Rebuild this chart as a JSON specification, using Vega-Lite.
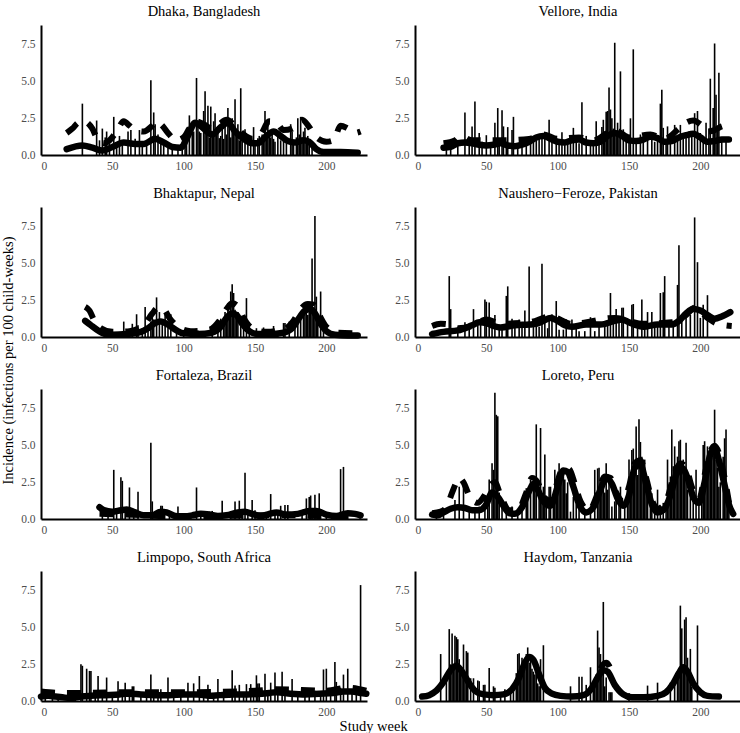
{
"$schema": "https://vega.github.io/schema/vega-lite/v6.json",
"background": "white",
"padding": {"left": 1, "top": 3, "right": 5, "bottom": 2},
"datasets": {
"sites": [
{"c":"A","s":"Dhaka, Bangladesh"},{"c":"B","s":"Vellore, India"},{"c":"C","s":"Bhaktapur, Nepal"},{"c":"D","s":"Naushero−Feroze, Pakistan"},
{"c":"E","s":"Fortaleza, Brazil"},{"c":"F","s":"Loreto, Peru"},{"c":"G","s":"Limpopo, South Africa"},{"c":"H","s":"Haydom, Tanzania"}],
"main": [
{"c":"A","k":"b","w":29,"v":3.5},{"c":"A","k":"b","w":39,"v":2.35},{"c":"A","k":"b","w":43,"v":1.8},{"c":"A","k":"b","w":46,"v":1.6},{"c":"A","k":"b","w":51,"v":2.6},{"c":"A","k":"b","w":55,"v":1.3},{"c":"A","k":"b","w":61,"v":1.6},{"c":"A","k":"b","w":63,"v":1.7},{"c":"A","k":"b","w":69,"v":1.7},{"c":"A","k":"b","w":77,"v":5.1},{"c":"A","k":"b","w":79,"v":2.9},{"c":"A","k":"b","w":80,"v":2.1},{"c":"A","k":"b","w":84,"v":0.9},{"c":"A","k":"b","w":89,"v":0.5},{"c":"A","k":"b","w":96,"v":0.5},{"c":"A","k":"b","w":104,"v":2.7},{"c":"A","k":"b","w":107,"v":1.6},{"c":"A","k":"b","w":109,"v":5.25},{"c":"A","k":"b","w":111,"v":1.6},{"c":"A","k":"b","w":114,"v":3.0},{"c":"A","k":"b","w":115,"v":4.35},{"c":"A","k":"b","w":117,"v":3.35},{"c":"A","k":"b","w":119,"v":3.3},{"c":"A","k":"b","w":121,"v":2.3},{"c":"A","k":"b","w":122,"v":2.85},{"c":"A","k":"b","w":125,"v":1.15},{"c":"A","k":"b","w":129,"v":2.5},{"c":"A","k":"b","w":131,"v":3.2},{"c":"A","k":"b","w":134,"v":2.5},{"c":"A","k":"b","w":136,"v":3.8},{"c":"A","k":"b","w":138,"v":2.1},{"c":"A","k":"b","w":140,"v":4.55},{"c":"A","k":"b","w":143,"v":1.75},{"c":"A","k":"b","w":149,"v":1.9},{"c":"A","k":"b","w":152,"v":1.15},{"c":"A","k":"b","w":155,"v":1.4},{"c":"A","k":"b","w":157,"v":3.0},{"c":"A","k":"b","w":159,"v":2.1},{"c":"A","k":"b","w":164,"v":0.9},{"c":"A","k":"b","w":175,"v":2.1},{"c":"A","k":"b","w":176,"v":1.6},{"c":"A","k":"b","w":180,"v":2.5},{"c":"A","k":"b","w":182,"v":2.6},{"c":"A","k":"b","w":185,"v":1.85},{"c":"A","k":"b","w":190,"v":0.9},
{"c":"A","k":"b","w":41,"v":1.0},{"c":"A","k":"b","w":45,"v":1.2},{"c":"A","k":"b","w":48,"v":0.8},{"c":"A","k":"b","w":53,"v":0.7},{"c":"A","k":"b","w":57,"v":0.9},{"c":"A","k":"b","w":66,"v":1.1},{"c":"A","k":"b","w":71,"v":0.6},{"c":"A","k":"b","w":74,"v":0.8},{"c":"A","k":"b","w":82,"v":1.4},{"c":"A","k":"b","w":86,"v":0.7},{"c":"A","k":"b","w":92,"v":0.6},{"c":"A","k":"b","w":99,"v":0.6},{"c":"A","k":"b","w":101,"v":1.0},{"c":"A","k":"b","w":102,"v":1.4},{"c":"A","k":"b","w":106,"v":1.8},{"c":"A","k":"b","w":110,"v":2.0},{"c":"A","k":"b","w":112,"v":1.5},{"c":"A","k":"b","w":116,"v":1.9},{"c":"A","k":"b","w":118,"v":1.2},{"c":"A","k":"b","w":120,"v":1.6},{"c":"A","k":"b","w":123,"v":1.4},{"c":"A","k":"b","w":124,"v":1.9},{"c":"A","k":"b","w":126,"v":1.3},{"c":"A","k":"b","w":127,"v":1.8},{"c":"A","k":"b","w":128,"v":1.1},{"c":"A","k":"b","w":130,"v":1.4},{"c":"A","k":"b","w":132,"v":1.9},{"c":"A","k":"b","w":133,"v":1.2},{"c":"A","k":"b","w":135,"v":1.6},{"c":"A","k":"b","w":137,"v":1.3},{"c":"A","k":"b","w":139,"v":1.0},{"c":"A","k":"b","w":141,"v":1.2},{"c":"A","k":"b","w":145,"v":0.9},{"c":"A","k":"b","w":147,"v":1.1},{"c":"A","k":"b","w":150,"v":0.8},{"c":"A","k":"b","w":153,"v":1.3},{"c":"A","k":"b","w":156,"v":1.1},{"c":"A","k":"b","w":158,"v":1.5},{"c":"A","k":"b","w":160,"v":1.7},{"c":"A","k":"b","w":161,"v":1.2},{"c":"A","k":"b","w":162,"v":1.5},{"c":"A","k":"b","w":163,"v":1.1},{"c":"A","k":"b","w":166,"v":1.3},{"c":"A","k":"b","w":168,"v":1.0},{"c":"A","k":"b","w":170,"v":1.2},{"c":"A","k":"b","w":172,"v":0.8},{"c":"A","k":"b","w":177,"v":1.0},{"c":"A","k":"b","w":179,"v":1.2},{"c":"A","k":"b","w":181,"v":1.4},{"c":"A","k":"b","w":183,"v":1.1},{"c":"A","k":"b","w":184,"v":1.6},{"c":"A","k":"b","w":186,"v":1.0},{"c":"A","k":"b","w":187,"v":1.3},{"c":"A","k":"b","w":188,"v":0.8},
{"c":"A","k":"f","w":18,"v":0.4},{"c":"A","k":"f","w":29,"v":0.65},{"c":"A","k":"f","w":36,"v":0.5},{"c":"A","k":"f","w":43,"v":0.3},{"c":"A","k":"f","w":50,"v":0.55},{"c":"A","k":"f","w":58,"v":0.85},{"c":"A","k":"f","w":66,"v":0.75},{"c":"A","k":"f","w":72,"v":0.75},{"c":"A","k":"f","w":80,"v":1.1},{"c":"A","k":"f","w":86,"v":0.85},{"c":"A","k":"f","w":92,"v":0.55},{"c":"A","k":"f","w":98,"v":0.5},{"c":"A","k":"f","w":103,"v":1.3},{"c":"A","k":"f","w":108,"v":2.2},{"c":"A","k":"f","w":114,"v":1.8},{"c":"A","k":"f","w":120,"v":1.4},{"c":"A","k":"f","w":126,"v":1.9},{"c":"A","k":"f","w":131,"v":2.2},{"c":"A","k":"f","w":136,"v":1.6},{"c":"A","k":"f","w":142,"v":1.1},{"c":"A","k":"f","w":148,"v":0.8},{"c":"A","k":"f","w":152,"v":0.8},{"c":"A","k":"f","w":158,"v":1.3},{"c":"A","k":"f","w":163,"v":1.6},{"c":"A","k":"f","w":168,"v":1.3},{"c":"A","k":"f","w":173,"v":0.95},{"c":"A","k":"f","w":178,"v":0.85},{"c":"A","k":"f","w":184,"v":1.0},{"c":"A","k":"f","w":188,"v":0.9},{"c":"A","k":"f","w":193,"v":0.4},{"c":"A","k":"f","w":198,"v":0.2},{"c":"A","k":"f","w":210,"v":0.2},{"c":"A","k":"f","w":222,"v":0.15},
{"c":"A","k":"u","w":18,"v":1.5},{"c":"A","k":"u","w":22,"v":1.8},{"c":"A","k":"u","w":26,"v":2.2},{"c":"A","k":"u","w":30,"v":2.3},{"c":"A","k":"u","w":36,"v":1.8},{"c":"A","k":"u","w":40,"v":1.0},{"c":"A","k":"u","w":44,"v":0.8},{"c":"A","k":"u","w":48,"v":1.0},{"c":"A","k":"u","w":53,"v":1.6},{"c":"A","k":"u","w":58,"v":2.3},{"c":"A","k":"u","w":62,"v":2.0},{"c":"A","k":"u","w":66,"v":1.7},{"c":"A","k":"u","w":72,"v":1.6},{"c":"A","k":"u","w":78,"v":2.0},{"c":"A","k":"u","w":81,"v":2.3},{"c":"A","k":"u","w":85,"v":2.0},{"c":"A","k":"u","w":89,"v":1.5},{"c":"A","k":"u","w":95,"v":1.0},{"c":"A","k":"u","w":100,"v":1.2},{"c":"A","k":"u","w":104,"v":1.8},{"c":"A","k":"u","w":108,"v":2.3},{"c":"A","k":"u","w":114,"v":2.1},{"c":"A","k":"u","w":120,"v":1.8},{"c":"A","k":"u","w":125,"v":2.1},{"c":"A","k":"u","w":130,"v":2.4},{"c":"A","k":"u","w":136,"v":2.0},{"c":"A","k":"u","w":142,"v":1.4},{"c":"A","k":"u","w":148,"v":1.1},{"c":"A","k":"u","w":154,"v":1.4},{"c":"A","k":"u","w":160,"v":2.3},{"c":"A","k":"u","w":165,"v":2.2},{"c":"A","k":"u","w":170,"v":1.7},{"c":"A","k":"u","w":176,"v":1.8},{"c":"A","k":"u","w":183,"v":2.4},{"c":"A","k":"u","w":188,"v":1.9},{"c":"A","k":"u","w":192,"v":1.3},{"c":"A","k":"u","w":200,"v":0.9},{"c":"A","k":"u","w":205,"v":1.0},{"c":"A","k":"u","w":210,"v":2.0},{"c":"A","k":"u","w":215,"v":1.8},{"c":"A","k":"u","w":220,"v":1.5},{"c":"A","k":"u","w":224,"v":1.6},

{"c":"B","k":"b","w":35,"v":2.9},{"c":"B","k":"b","w":40,"v":1.95},{"c":"B","k":"b","w":42,"v":3.65},{"c":"B","k":"b","w":45,"v":1.5},{"c":"B","k":"b","w":50,"v":1.35},{"c":"B","k":"b","w":56,"v":2.2},{"c":"B","k":"b","w":58,"v":3.2},{"c":"B","k":"b","w":61,"v":3.05},{"c":"B","k":"b","w":62,"v":1.95},{"c":"B","k":"b","w":65,"v":1.9},{"c":"B","k":"b","w":68,"v":1.7},{"c":"B","k":"b","w":69,"v":2.6},{"c":"B","k":"b","w":78,"v":0.9},{"c":"B","k":"b","w":85,"v":1.15},{"c":"B","k":"b","w":89,"v":1.4},{"c":"B","k":"b","w":94,"v":2.4},{"c":"B","k":"b","w":99,"v":0.9},{"c":"B","k":"b","w":103,"v":1.55},{"c":"B","k":"b","w":107,"v":0.9},{"c":"B","k":"b","w":111,"v":1.85},{"c":"B","k":"b","w":117,"v":3.6},{"c":"B","k":"b","w":120,"v":1.3},{"c":"B","k":"b","w":127,"v":2.3},{"c":"B","k":"b","w":131,"v":1.9},{"c":"B","k":"b","w":132,"v":2.4},{"c":"B","k":"b","w":134,"v":2.95},{"c":"B","k":"b","w":135,"v":3.0},{"c":"B","k":"b","w":136,"v":4.6},{"c":"B","k":"b","w":137,"v":3.1},{"c":"B","k":"b","w":138,"v":2.5},{"c":"B","k":"b","w":140,"v":7.65},{"c":"B","k":"b","w":142,"v":2.2},{"c":"B","k":"b","w":144,"v":5.7},{"c":"B","k":"b","w":146,"v":1.75},{"c":"B","k":"b","w":151,"v":2.5},{"c":"B","k":"b","w":153,"v":7.2},{"c":"B","k":"b","w":158,"v":1.4},{"c":"B","k":"b","w":163,"v":1.15},{"c":"B","k":"b","w":172,"v":3.5},{"c":"B","k":"b","w":173,"v":4.45},{"c":"B","k":"b","w":174,"v":1.85},{"c":"B","k":"b","w":177,"v":1.95},{"c":"B","k":"b","w":182,"v":2.05},{"c":"B","k":"b","w":186,"v":2.05},{"c":"B","k":"b","w":196,"v":2.85},{"c":"B","k":"b","w":198,"v":3.0},{"c":"B","k":"b","w":204,"v":2.2},{"c":"B","k":"b","w":207,"v":5.2},{"c":"B","k":"b","w":209,"v":3.2},{"c":"B","k":"b","w":210,"v":7.6},{"c":"B","k":"b","w":211,"v":4.1},{"c":"B","k":"b","w":213,"v":5.6},
{"c":"B","k":"b","w":22,"v":0.6},{"c":"B","k":"b","w":25,"v":0.7},{"c":"B","k":"b","w":30,"v":0.9},{"c":"B","k":"b","w":38,"v":0.8},{"c":"B","k":"b","w":47,"v":0.9},{"c":"B","k":"b","w":53,"v":0.8},{"c":"B","k":"b","w":59,"v":1.0},{"c":"B","k":"b","w":64,"v":0.9},{"c":"B","k":"b","w":72,"v":0.6},{"c":"B","k":"b","w":75,"v":0.7},{"c":"B","k":"b","w":81,"v":0.8},{"c":"B","k":"b","w":83,"v":1.0},{"c":"B","k":"b","w":87,"v":1.2},{"c":"B","k":"b","w":91,"v":1.1},{"c":"B","k":"b","w":96,"v":0.9},{"c":"B","k":"b","w":101,"v":0.8},{"c":"B","k":"b","w":105,"v":0.7},{"c":"B","k":"b","w":109,"v":0.9},{"c":"B","k":"b","w":113,"v":1.0},{"c":"B","k":"b","w":115,"v":0.8},{"c":"B","k":"b","w":123,"v":0.7},{"c":"B","k":"b","w":125,"v":0.9},{"c":"B","k":"b","w":129,"v":1.2},{"c":"B","k":"b","w":133,"v":1.6},{"c":"B","k":"b","w":139,"v":1.8},{"c":"B","k":"b","w":141,"v":1.4},{"c":"B","k":"b","w":143,"v":1.2},{"c":"B","k":"b","w":148,"v":1.0},{"c":"B","k":"b","w":150,"v":0.9},{"c":"B","k":"b","w":155,"v":0.8},{"c":"B","k":"b","w":160,"v":1.0},{"c":"B","k":"b","w":166,"v":1.1},{"c":"B","k":"b","w":168,"v":0.9},{"c":"B","k":"b","w":170,"v":1.2},{"c":"B","k":"b","w":176,"v":1.0},{"c":"B","k":"b","w":179,"v":1.3},{"c":"B","k":"b","w":184,"v":1.1},{"c":"B","k":"b","w":188,"v":1.4},{"c":"B","k":"b","w":190,"v":1.2},{"c":"B","k":"b","w":192,"v":1.6},{"c":"B","k":"b","w":194,"v":1.3},{"c":"B","k":"b","w":200,"v":1.5},{"c":"B","k":"b","w":202,"v":1.2},{"c":"B","k":"b","w":206,"v":1.8},{"c":"B","k":"b","w":212,"v":2.0},{"c":"B","k":"b","w":215,"v":1.0},{"c":"B","k":"b","w":218,"v":1.1},
{"c":"B","k":"f","w":20,"v":0.5},{"c":"B","k":"f","w":25,"v":0.55},{"c":"B","k":"f","w":30,"v":0.8},{"c":"B","k":"f","w":35,"v":0.85},{"c":"B","k":"f","w":40,"v":0.8},{"c":"B","k":"f","w":45,"v":0.7},{"c":"B","k":"f","w":50,"v":0.65},{"c":"B","k":"f","w":55,"v":0.7},{"c":"B","k":"f","w":60,"v":0.8},{"c":"B","k":"f","w":65,"v":0.65},{"c":"B","k":"f","w":70,"v":0.6},{"c":"B","k":"f","w":75,"v":0.7},{"c":"B","k":"f","w":80,"v":0.9},{"c":"B","k":"f","w":85,"v":1.2},{"c":"B","k":"f","w":90,"v":1.3},{"c":"B","k":"f","w":95,"v":1.1},{"c":"B","k":"f","w":100,"v":0.9},{"c":"B","k":"f","w":105,"v":0.85},{"c":"B","k":"f","w":110,"v":1.0},{"c":"B","k":"f","w":115,"v":1.05},{"c":"B","k":"f","w":120,"v":0.85},{"c":"B","k":"f","w":125,"v":0.8},{"c":"B","k":"f","w":130,"v":0.9},{"c":"B","k":"f","w":135,"v":1.3},{"c":"B","k":"f","w":140,"v":1.5},{"c":"B","k":"f","w":145,"v":1.3},{"c":"B","k":"f","w":150,"v":1.0},{"c":"B","k":"f","w":155,"v":0.95},{"c":"B","k":"f","w":160,"v":1.05},{"c":"B","k":"f","w":165,"v":1.25},{"c":"B","k":"f","w":170,"v":1.15},{"c":"B","k":"f","w":175,"v":0.9},{"c":"B","k":"f","w":180,"v":0.95},{"c":"B","k":"f","w":185,"v":1.2},{"c":"B","k":"f","w":190,"v":1.35},{"c":"B","k":"f","w":195,"v":1.45},{"c":"B","k":"f","w":200,"v":1.2},{"c":"B","k":"f","w":205,"v":0.9},{"c":"B","k":"f","w":210,"v":0.95},{"c":"B","k":"f","w":215,"v":1.05},{"c":"B","k":"f","w":220,"v":1.05},
{"c":"B","k":"u","w":20,"v":0.8},{"c":"B","k":"u","w":28,"v":1.0},{"c":"B","k":"u","w":32,"v":1.3},{"c":"B","k":"u","w":40,"v":1.0},{"c":"B","k":"u","w":60,"v":1.0},{"c":"B","k":"u","w":80,"v":1.1},{"c":"B","k":"u","w":90,"v":1.4},{"c":"B","k":"u","w":100,"v":1.1},{"c":"B","k":"u","w":115,"v":1.2},{"c":"B","k":"u","w":125,"v":1.0},{"c":"B","k":"u","w":135,"v":1.5},{"c":"B","k":"u","w":140,"v":1.7},{"c":"B","k":"u","w":150,"v":1.2},{"c":"B","k":"u","w":165,"v":1.4},{"c":"B","k":"u","w":175,"v":1.1},{"c":"B","k":"u","w":185,"v":1.8},{"c":"B","k":"u","w":190,"v":2.2},{"c":"B","k":"u","w":195,"v":2.35},{"c":"B","k":"u","w":200,"v":2.1},{"c":"B","k":"u","w":205,"v":1.6},{"c":"B","k":"u","w":210,"v":1.7},{"c":"B","k":"u","w":215,"v":1.95},{"c":"B","k":"u","w":220,"v":2.05},

{"c":"C","k":"b","w":58,"v":1.05},{"c":"C","k":"b","w":64,"v":0.9},{"c":"C","k":"b","w":67,"v":1.55},{"c":"C","k":"b","w":68,"v":0.8},{"c":"C","k":"b","w":73,"v":2.05},{"c":"C","k":"b","w":77,"v":1.05},{"c":"C","k":"b","w":78,"v":1.6},{"c":"C","k":"b","w":81,"v":2.7},{"c":"C","k":"b","w":83,"v":1.7},{"c":"C","k":"b","w":87,"v":1.5},{"c":"C","k":"b","w":91,"v":1.55},{"c":"C","k":"b","w":105,"v":0.45},{"c":"C","k":"b","w":108,"v":0.45},{"c":"C","k":"b","w":110,"v":0.45},{"c":"C","k":"b","w":126,"v":1.25},{"c":"C","k":"b","w":129,"v":1.7},{"c":"C","k":"b","w":131,"v":2.3},{"c":"C","k":"b","w":133,"v":3.1},{"c":"C","k":"b","w":134,"v":3.6},{"c":"C","k":"b","w":135,"v":3.0},{"c":"C","k":"b","w":136,"v":1.85},{"c":"C","k":"b","w":138,"v":1.7},{"c":"C","k":"b","w":144,"v":2.65},{"c":"C","k":"b","w":146,"v":0.8},{"c":"C","k":"b","w":151,"v":0.6},{"c":"C","k":"b","w":156,"v":0.65},{"c":"C","k":"b","w":163,"v":0.75},{"c":"C","k":"b","w":170,"v":0.95},{"c":"C","k":"b","w":171,"v":0.95},{"c":"C","k":"b","w":174,"v":1.05},{"c":"C","k":"b","w":182,"v":1.7},{"c":"C","k":"b","w":185,"v":2.2},{"c":"C","k":"b","w":188,"v":2.4},{"c":"C","k":"b","w":190,"v":5.35},{"c":"C","k":"b","w":192,"v":8.25},{"c":"C","k":"b","w":193,"v":2.75},{"c":"C","k":"b","w":196,"v":3.1},
{"c":"C","k":"b","w":50,"v":0.3},{"c":"C","k":"b","w":55,"v":0.35},{"c":"C","k":"b","w":62,"v":0.4},{"c":"C","k":"b","w":71,"v":0.6},{"c":"C","k":"b","w":75,"v":0.8},{"c":"C","k":"b","w":79,"v":1.2},{"c":"C","k":"b","w":85,"v":1.0},{"c":"C","k":"b","w":89,"v":0.8},{"c":"C","k":"b","w":95,"v":0.5},{"c":"C","k":"b","w":100,"v":0.3},{"c":"C","k":"b","w":115,"v":0.3},{"c":"C","k":"b","w":120,"v":0.35},{"c":"C","k":"b","w":124,"v":0.6},{"c":"C","k":"b","w":128,"v":1.0},{"c":"C","k":"b","w":130,"v":1.4},{"c":"C","k":"b","w":132,"v":1.8},{"c":"C","k":"b","w":137,"v":1.4},{"c":"C","k":"b","w":140,"v":1.0},{"c":"C","k":"b","w":142,"v":0.7},{"c":"C","k":"b","w":160,"v":0.3},{"c":"C","k":"b","w":166,"v":0.4},{"c":"C","k":"b","w":178,"v":0.8},{"c":"C","k":"b","w":180,"v":1.2},{"c":"C","k":"b","w":184,"v":1.6},{"c":"C","k":"b","w":186,"v":1.9},{"c":"C","k":"b","w":187,"v":1.5},{"c":"C","k":"b","w":189,"v":1.8},{"c":"C","k":"b","w":191,"v":2.0},{"c":"C","k":"b","w":194,"v":1.2},{"c":"C","k":"b","w":198,"v":0.6},
{"c":"C","k":"f","w":31,"v":1.1},{"c":"C","k":"f","w":35,"v":0.8},{"c":"C","k":"f","w":40,"v":0.45},{"c":"C","k":"f","w":45,"v":0.2},{"c":"C","k":"f","w":50,"v":0.15},{"c":"C","k":"f","w":60,"v":0.2},{"c":"C","k":"f","w":70,"v":0.35},{"c":"C","k":"f","w":75,"v":0.6},{"c":"C","k":"f","w":80,"v":0.95},{"c":"C","k":"f","w":84,"v":1.05},{"c":"C","k":"f","w":88,"v":0.9},{"c":"C","k":"f","w":95,"v":0.45},{"c":"C","k":"f","w":100,"v":0.25},{"c":"C","k":"f","w":110,"v":0.2},{"c":"C","k":"f","w":120,"v":0.3},{"c":"C","k":"f","w":126,"v":0.7},{"c":"C","k":"f","w":130,"v":1.3},{"c":"C","k":"f","w":134,"v":1.6},{"c":"C","k":"f","w":137,"v":1.5},{"c":"C","k":"f","w":141,"v":0.9},{"c":"C","k":"f","w":146,"v":0.4},{"c":"C","k":"f","w":152,"v":0.2},{"c":"C","k":"f","w":160,"v":0.2},{"c":"C","k":"f","w":170,"v":0.3},{"c":"C","k":"f","w":176,"v":0.6},{"c":"C","k":"f","w":181,"v":1.3},{"c":"C","k":"f","w":185,"v":1.8},{"c":"C","k":"f","w":189,"v":1.9},{"c":"C","k":"f","w":192,"v":1.6},{"c":"C","k":"f","w":196,"v":0.9},{"c":"C","k":"f","w":200,"v":0.4},{"c":"C","k":"f","w":206,"v":0.15},{"c":"C","k":"f","w":215,"v":0.1},{"c":"C","k":"f","w":222,"v":0.1},
{"c":"C","k":"u","w":31,"v":2.05},{"c":"C","k":"u","w":34,"v":1.8},{"c":"C","k":"u","w":37,"v":1.2},{"c":"C","k":"u","w":42,"v":0.6},{"c":"C","k":"u","w":50,"v":0.35},{"c":"C","k":"u","w":62,"v":0.4},{"c":"C","k":"u","w":72,"v":0.8},{"c":"C","k":"u","w":78,"v":1.6},{"c":"C","k":"u","w":82,"v":2.0},{"c":"C","k":"u","w":86,"v":1.9},{"c":"C","k":"u","w":90,"v":1.3},{"c":"C","k":"u","w":96,"v":0.7},{"c":"C","k":"u","w":105,"v":0.4},{"c":"C","k":"u","w":118,"v":0.5},{"c":"C","k":"u","w":125,"v":1.1},{"c":"C","k":"u","w":130,"v":1.9},{"c":"C","k":"u","w":134,"v":2.3},{"c":"C","k":"u","w":138,"v":2.1},{"c":"C","k":"u","w":142,"v":1.3},{"c":"C","k":"u","w":148,"v":0.6},{"c":"C","k":"u","w":158,"v":0.35},{"c":"C","k":"u","w":170,"v":0.5},{"c":"C","k":"u","w":177,"v":1.1},{"c":"C","k":"u","w":182,"v":1.9},{"c":"C","k":"u","w":187,"v":2.25},{"c":"C","k":"u","w":191,"v":2.2},{"c":"C","k":"u","w":195,"v":1.5},{"c":"C","k":"u","w":200,"v":0.7},{"c":"C","k":"u","w":208,"v":0.3},{"c":"C","k":"u","w":222,"v":0.25},

{"c":"D","k":"b","w":24,"v":4.15},{"c":"D","k":"b","w":25,"v":1.9},{"c":"D","k":"b","w":35,"v":1.0},{"c":"D","k":"b","w":41,"v":1.9},{"c":"D","k":"b","w":49,"v":2.55},{"c":"D","k":"b","w":50,"v":2.4},{"c":"D","k":"b","w":52,"v":2.35},{"c":"D","k":"b","w":56,"v":1.5},{"c":"D","k":"b","w":64,"v":2.8},{"c":"D","k":"b","w":65,"v":3.45},{"c":"D","k":"b","w":68,"v":1.25},{"c":"D","k":"b","w":73,"v":1.2},{"c":"D","k":"b","w":77,"v":1.8},{"c":"D","k":"b","w":80,"v":4.8},{"c":"D","k":"b","w":85,"v":1.0},{"c":"D","k":"b","w":89,"v":5.0},{"c":"D","k":"b","w":94,"v":1.45},{"c":"D","k":"b","w":96,"v":1.55},{"c":"D","k":"b","w":99,"v":2.45},{"c":"D","k":"b","w":106,"v":1.2},{"c":"D","k":"b","w":110,"v":1.2},{"c":"D","k":"b","w":115,"v":0.4},{"c":"D","k":"b","w":119,"v":0.4},{"c":"D","k":"b","w":123,"v":1.35},{"c":"D","k":"b","w":126,"v":0.4},{"c":"D","k":"b","w":133,"v":1.0},{"c":"D","k":"b","w":137,"v":3.0},{"c":"D","k":"b","w":141,"v":1.9},{"c":"D","k":"b","w":145,"v":2.0},{"c":"D","k":"b","w":146,"v":2.0},{"c":"D","k":"b","w":152,"v":2.2},{"c":"D","k":"b","w":153,"v":2.25},{"c":"D","k":"b","w":159,"v":2.55},{"c":"D","k":"b","w":163,"v":1.7},{"c":"D","k":"b","w":166,"v":1.7},{"c":"D","k":"b","w":172,"v":3.0},{"c":"D","k":"b","w":174,"v":3.05},{"c":"D","k":"b","w":175,"v":4.15},{"c":"D","k":"b","w":184,"v":3.55},{"c":"D","k":"b","w":185,"v":6.25},{"c":"D","k":"b","w":196,"v":8.15},{"c":"D","k":"b","w":198,"v":5.1},{"c":"D","k":"b","w":202,"v":2.2},{"c":"D","k":"b","w":205,"v":2.85},
{"c":"D","k":"b","w":30,"v":0.6},{"c":"D","k":"b","w":38,"v":0.9},{"c":"D","k":"b","w":44,"v":1.0},{"c":"D","k":"b","w":46,"v":1.2},{"c":"D","k":"b","w":54,"v":0.9},{"c":"D","k":"b","w":59,"v":0.8},{"c":"D","k":"b","w":61,"v":0.7},{"c":"D","k":"b","w":70,"v":0.9},{"c":"D","k":"b","w":75,"v":0.8},{"c":"D","k":"b","w":83,"v":0.9},{"c":"D","k":"b","w":87,"v":0.7},{"c":"D","k":"b","w":91,"v":1.0},{"c":"D","k":"b","w":93,"v":0.6},{"c":"D","k":"b","w":101,"v":0.5},{"c":"D","k":"b","w":104,"v":0.5},{"c":"D","k":"b","w":113,"v":0.6},{"c":"D","k":"b","w":129,"v":0.7},{"c":"D","k":"b","w":135,"v":0.9},{"c":"D","k":"b","w":139,"v":1.1},{"c":"D","k":"b","w":143,"v":1.3},{"c":"D","k":"b","w":149,"v":1.0},{"c":"D","k":"b","w":156,"v":0.9},{"c":"D","k":"b","w":161,"v":0.8},{"c":"D","k":"b","w":168,"v":0.9},{"c":"D","k":"b","w":170,"v":0.7},{"c":"D","k":"b","w":178,"v":0.9},{"c":"D","k":"b","w":181,"v":0.8},{"c":"D","k":"b","w":187,"v":1.2},{"c":"D","k":"b","w":190,"v":1.4},{"c":"D","k":"b","w":193,"v":1.5},{"c":"D","k":"b","w":200,"v":1.3},
{"c":"D","k":"f","w":12,"v":0.2},{"c":"D","k":"f","w":20,"v":0.35},{"c":"D","k":"f","w":30,"v":0.45},{"c":"D","k":"f","w":40,"v":0.8},{"c":"D","k":"f","w":45,"v":1.0},{"c":"D","k":"f","w":50,"v":0.95},{"c":"D","k":"f","w":55,"v":0.75},{"c":"D","k":"f","w":60,"v":0.65},{"c":"D","k":"f","w":70,"v":0.8},{"c":"D","k":"f","w":80,"v":0.85},{"c":"D","k":"f","w":85,"v":0.9},{"c":"D","k":"f","w":90,"v":1.1},{"c":"D","k":"f","w":95,"v":1.3},{"c":"D","k":"f","w":100,"v":1.1},{"c":"D","k":"f","w":105,"v":0.8},{"c":"D","k":"f","w":110,"v":0.7},{"c":"D","k":"f","w":120,"v":0.85},{"c":"D","k":"f","w":130,"v":0.85},{"c":"D","k":"f","w":140,"v":1.1},{"c":"D","k":"f","w":145,"v":1.2},{"c":"D","k":"f","w":150,"v":1.0},{"c":"D","k":"f","w":155,"v":0.8},{"c":"D","k":"f","w":160,"v":0.7},{"c":"D","k":"f","w":170,"v":0.85},{"c":"D","k":"f","w":180,"v":0.85},{"c":"D","k":"f","w":185,"v":1.1},{"c":"D","k":"f","w":190,"v":1.6},{"c":"D","k":"f","w":195,"v":1.9},{"c":"D","k":"f","w":200,"v":1.8},{"c":"D","k":"f","w":205,"v":1.5},{"c":"D","k":"f","w":210,"v":1.25},{"c":"D","k":"f","w":215,"v":1.4},{"c":"D","k":"f","w":221,"v":1.7},
{"c":"D","k":"u","w":12,"v":0.75},{"c":"D","k":"u","w":18,"v":0.9},{"c":"D","k":"u","w":24,"v":0.85},{"c":"D","k":"u","w":30,"v":0.6},{"c":"D","k":"u","w":40,"v":0.75},{"c":"D","k":"u","w":50,"v":1.2},{"c":"D","k":"u","w":60,"v":0.9},{"c":"D","k":"u","w":80,"v":1.0},{"c":"D","k":"u","w":95,"v":1.4},{"c":"D","k":"u","w":110,"v":0.9},{"c":"D","k":"u","w":140,"v":1.3},{"c":"D","k":"u","w":160,"v":0.9},{"c":"D","k":"u","w":180,"v":1.0},{"c":"D","k":"u","w":190,"v":1.5},{"c":"D","k":"u","w":196,"v":2.0},{"c":"D","k":"u","w":205,"v":1.3},{"c":"D","k":"u","w":212,"v":0.9},{"c":"D","k":"u","w":217,"v":0.8},{"c":"D","k":"u","w":222,"v":0.75},

{"c":"E","k":"b","w":51,"v":3.35},{"c":"E","k":"b","w":56,"v":2.85},{"c":"E","k":"b","w":57,"v":2.6},{"c":"E","k":"b","w":62,"v":2.15},{"c":"E","k":"b","w":68,"v":1.85},{"c":"E","k":"b","w":77,"v":5.2},{"c":"E","k":"b","w":78,"v":1.2},{"c":"E","k":"b","w":96,"v":0.85},{"c":"E","k":"b","w":109,"v":2.15},{"c":"E","k":"b","w":115,"v":0.55},{"c":"E","k":"b","w":120,"v":0.55},{"c":"E","k":"b","w":127,"v":1.25},{"c":"E","k":"b","w":136,"v":1.2},{"c":"E","k":"b","w":139,"v":1.25},{"c":"E","k":"b","w":143,"v":3.15},{"c":"E","k":"b","w":148,"v":1.3},{"c":"E","k":"b","w":161,"v":1.7},{"c":"E","k":"b","w":164,"v":0.55},{"c":"E","k":"b","w":168,"v":0.9},{"c":"E","k":"b","w":171,"v":0.95},{"c":"E","k":"b","w":173,"v":0.95},{"c":"E","k":"b","w":186,"v":1.4},{"c":"E","k":"b","w":188,"v":1.5},{"c":"E","k":"b","w":189,"v":1.6},{"c":"E","k":"b","w":192,"v":1.65},{"c":"E","k":"b","w":195,"v":1.75},{"c":"E","k":"b","w":210,"v":3.4},{"c":"E","k":"b","w":212,"v":3.55},
{"c":"E","k":"b","w":43,"v":0.3},{"c":"E","k":"b","w":47,"v":0.4},{"c":"E","k":"b","w":53,"v":0.5},{"c":"E","k":"b","w":59,"v":0.6},{"c":"E","k":"b","w":65,"v":0.3},{"c":"E","k":"b","w":84,"v":0.9},{"c":"E","k":"b","w":85,"v":0.9},{"c":"E","k":"b","w":90,"v":0.3},{"c":"E","k":"b","w":112,"v":0.5},{"c":"E","k":"b","w":118,"v":0.5},{"c":"E","k":"b","w":133,"v":0.4},{"c":"E","k":"b","w":141,"v":0.6},{"c":"E","k":"b","w":145,"v":0.6},{"c":"E","k":"b","w":150,"v":0.6},{"c":"E","k":"b","w":158,"v":0.4},{"c":"E","k":"b","w":166,"v":0.6},{"c":"E","k":"b","w":183,"v":0.4},{"c":"E","k":"b","w":190,"v":0.7},{"c":"E","k":"b","w":200,"v":0.2},{"c":"E","k":"b","w":215,"v":0.3},
{"c":"E","k":"f","w":41,"v":0.8},{"c":"E","k":"f","w":44,"v":0.6},{"c":"E","k":"f","w":50,"v":0.5},{"c":"E","k":"f","w":56,"v":0.6},{"c":"E","k":"f","w":60,"v":0.65},{"c":"E","k":"f","w":66,"v":0.45},{"c":"E","k":"f","w":72,"v":0.25},{"c":"E","k":"f","w":78,"v":0.25},{"c":"E","k":"f","w":84,"v":0.5},{"c":"E","k":"f","w":88,"v":0.45},{"c":"E","k":"f","w":94,"v":0.2},{"c":"E","k":"f","w":100,"v":0.15},{"c":"E","k":"f","w":106,"v":0.25},{"c":"E","k":"f","w":112,"v":0.35},{"c":"E","k":"f","w":118,"v":0.3},{"c":"E","k":"f","w":124,"v":0.2},{"c":"E","k":"f","w":130,"v":0.25},{"c":"E","k":"f","w":138,"v":0.45},{"c":"E","k":"f","w":143,"v":0.5},{"c":"E","k":"f","w":148,"v":0.35},{"c":"E","k":"f","w":154,"v":0.2},{"c":"E","k":"f","w":160,"v":0.35},{"c":"E","k":"f","w":165,"v":0.45},{"c":"E","k":"f","w":172,"v":0.3},{"c":"E","k":"f","w":180,"v":0.35},{"c":"E","k":"f","w":188,"v":0.55},{"c":"E","k":"f","w":193,"v":0.55},{"c":"E","k":"f","w":200,"v":0.3},{"c":"E","k":"f","w":207,"v":0.2},{"c":"E","k":"f","w":215,"v":0.4},{"c":"E","k":"f","w":220,"v":0.35},{"c":"E","k":"f","w":224,"v":0.25},
{"c":"E","k":"u","w":41,"v":0.35},{"c":"E","k":"u","w":60,"v":0.3},{"c":"E","k":"u","w":90,"v":0.2},{"c":"E","k":"u","w":120,"v":0.2},{"c":"E","k":"u","w":150,"v":0.25},{"c":"E","k":"u","w":180,"v":0.25},{"c":"E","k":"u","w":200,"v":0.2},{"c":"E","k":"u","w":224,"v":0.2},

{"c":"F","k":"b","w":28,"v":1.3},{"c":"F","k":"b","w":31,"v":2.2},{"c":"F","k":"b","w":34,"v":2.25},{"c":"F","k":"b","w":45,"v":0.85},{"c":"F","k":"b","w":49,"v":1.55},{"c":"F","k":"b","w":52,"v":2.7},{"c":"F","k":"b","w":54,"v":3.8},{"c":"F","k":"b","w":55,"v":3.35},{"c":"F","k":"b","w":56,"v":8.6},{"c":"F","k":"b","w":57,"v":7.1},{"c":"F","k":"b","w":58,"v":7.0},{"c":"F","k":"b","w":59,"v":1.8},{"c":"F","k":"b","w":68,"v":0.85},{"c":"F","k":"b","w":75,"v":1.3},{"c":"F","k":"b","w":78,"v":2.1},{"c":"F","k":"b","w":81,"v":2.7},{"c":"F","k":"b","w":83,"v":2.2},{"c":"F","k":"b","w":85,"v":6.45},{"c":"F","k":"b","w":87,"v":2.2},{"c":"F","k":"b","w":88,"v":6.2},{"c":"F","k":"b","w":90,"v":2.2},{"c":"F","k":"b","w":91,"v":4.4},{"c":"F","k":"b","w":94,"v":2.2},{"c":"F","k":"b","w":95,"v":2.2},{"c":"F","k":"b","w":98,"v":3.35},{"c":"F","k":"b","w":99,"v":2.45},{"c":"F","k":"b","w":101,"v":3.8},{"c":"F","k":"b","w":103,"v":2.9},{"c":"F","k":"b","w":105,"v":2.7},{"c":"F","k":"b","w":106,"v":1.75},{"c":"F","k":"b","w":109,"v":0.5},{"c":"F","k":"b","w":115,"v":1.1},{"c":"F","k":"b","w":119,"v":0.5},{"c":"F","k":"b","w":126,"v":3.35},{"c":"F","k":"b","w":128,"v":3.45},{"c":"F","k":"b","w":129,"v":3.5},{"c":"F","k":"b","w":131,"v":2.8},{"c":"F","k":"b","w":134,"v":3.8},{"c":"F","k":"b","w":136,"v":2.45},{"c":"F","k":"b","w":138,"v":0.85},{"c":"F","k":"b","w":141,"v":1.55},{"c":"F","k":"b","w":144,"v":2.2},{"c":"F","k":"b","w":147,"v":0.85},{"c":"F","k":"b","w":150,"v":4.05},{"c":"F","k":"b","w":152,"v":4.7},{"c":"F","k":"b","w":153,"v":4.8},{"c":"F","k":"b","w":155,"v":6.3},{"c":"F","k":"b","w":157,"v":6.8},{"c":"F","k":"b","w":158,"v":5.25},{"c":"F","k":"b","w":159,"v":4.25},{"c":"F","k":"b","w":161,"v":4.05},{"c":"F","k":"b","w":163,"v":2.9},{"c":"F","k":"b","w":166,"v":1.75},{"c":"F","k":"b","w":168,"v":0.85},{"c":"F","k":"b","w":170,"v":2.0},{"c":"F","k":"b","w":174,"v":1.1},{"c":"F","k":"b","w":177,"v":4.05},{"c":"F","k":"b","w":179,"v":2.9},{"c":"F","k":"b","w":180,"v":6.1},{"c":"F","k":"b","w":181,"v":3.6},{"c":"F","k":"b","w":182,"v":4.95},{"c":"F","k":"b","w":184,"v":4.25},{"c":"F","k":"b","w":185,"v":5.3},{"c":"F","k":"b","w":186,"v":5.4},{"c":"F","k":"b","w":188,"v":4.05},{"c":"F","k":"b","w":190,"v":5.2},{"c":"F","k":"b","w":193,"v":2.7},{"c":"F","k":"b","w":197,"v":3.35},{"c":"F","k":"b","w":202,"v":5.05},{"c":"F","k":"b","w":203,"v":5.3},{"c":"F","k":"b","w":205,"v":4.95},{"c":"F","k":"b","w":207,"v":4.6},{"c":"F","k":"b","w":210,"v":7.45},{"c":"F","k":"b","w":211,"v":4.05},{"c":"F","k":"b","w":213,"v":2.2},{"c":"F","k":"b","w":216,"v":4.25},{"c":"F","k":"b","w":217,"v":5.5},{"c":"F","k":"b","w":218,"v":6.1},
{"c":"F","k":"b","w":15,"v":0.3},{"c":"F","k":"b","w":20,"v":0.5},{"c":"F","k":"b","w":38,"v":0.5},{"c":"F","k":"b","w":42,"v":0.6},{"c":"F","k":"b","w":51,"v":1.5},{"c":"F","k":"b","w":61,"v":1.0},{"c":"F","k":"b","w":64,"v":0.6},{"c":"F","k":"b","w":72,"v":0.5},{"c":"F","k":"b","w":79,"v":1.8},{"c":"F","k":"b","w":84,"v":2.0},{"c":"F","k":"b","w":89,"v":1.5},{"c":"F","k":"b","w":92,"v":1.2},{"c":"F","k":"b","w":97,"v":1.3},{"c":"F","k":"b","w":100,"v":2.0},{"c":"F","k":"b","w":102,"v":2.5},{"c":"F","k":"b","w":104,"v":3.0},{"c":"F","k":"b","w":107,"v":2.5},{"c":"F","k":"b","w":111,"v":1.5},{"c":"F","k":"b","w":113,"v":1.0},{"c":"F","k":"b","w":123,"v":0.6},{"c":"F","k":"b","w":130,"v":2.0},{"c":"F","k":"b","w":132,"v":2.5},{"c":"F","k":"b","w":133,"v":1.8},{"c":"F","k":"b","w":135,"v":2.0},{"c":"F","k":"b","w":140,"v":1.2},{"c":"F","k":"b","w":143,"v":1.0},{"c":"F","k":"b","w":149,"v":2.0},{"c":"F","k":"b","w":151,"v":2.5},{"c":"F","k":"b","w":154,"v":3.5},{"c":"F","k":"b","w":156,"v":3.0},{"c":"F","k":"b","w":160,"v":3.2},{"c":"F","k":"b","w":162,"v":2.0},{"c":"F","k":"b","w":165,"v":1.2},{"c":"F","k":"b","w":172,"v":0.6},{"c":"F","k":"b","w":176,"v":1.0},{"c":"F","k":"b","w":178,"v":2.0},{"c":"F","k":"b","w":183,"v":3.0},{"c":"F","k":"b","w":187,"v":3.5},{"c":"F","k":"b","w":189,"v":3.0},{"c":"F","k":"b","w":191,"v":2.0},{"c":"F","k":"b","w":195,"v":1.5},{"c":"F","k":"b","w":199,"v":1.2},{"c":"F","k":"b","w":201,"v":2.0},{"c":"F","k":"b","w":204,"v":3.5},{"c":"F","k":"b","w":206,"v":4.0},{"c":"F","k":"b","w":208,"v":4.2},{"c":"F","k":"b","w":209,"v":4.5},{"c":"F","k":"b","w":212,"v":3.5},{"c":"F","k":"b","w":214,"v":2.5},{"c":"F","k":"b","w":219,"v":1.5},{"c":"F","k":"b","w":220,"v":0.8},
{"c":"F","k":"f","w":12,"v":0.3},{"c":"F","k":"f","w":16,"v":0.25},{"c":"F","k":"f","w":20,"v":0.45},{"c":"F","k":"f","w":25,"v":0.7},{"c":"F","k":"f","w":30,"v":0.8},{"c":"F","k":"f","w":35,"v":0.75},{"c":"F","k":"f","w":40,"v":0.6},{"c":"F","k":"f","w":45,"v":0.6},{"c":"F","k":"f","w":50,"v":1.0},{"c":"F","k":"f","w":54,"v":1.8},{"c":"F","k":"f","w":58,"v":1.5},{"c":"F","k":"f","w":62,"v":0.9},{"c":"F","k":"f","w":66,"v":0.4},{"c":"F","k":"f","w":70,"v":0.35},{"c":"F","k":"f","w":75,"v":0.8},{"c":"F","k":"f","w":80,"v":1.9},{"c":"F","k":"f","w":83,"v":2.4},{"c":"F","k":"f","w":86,"v":2.0},{"c":"F","k":"f","w":90,"v":1.2},{"c":"F","k":"f","w":95,"v":0.9},{"c":"F","k":"f","w":100,"v":2.2},{"c":"F","k":"f","w":104,"v":3.3},{"c":"F","k":"f","w":107,"v":3.2},{"c":"F","k":"f","w":111,"v":2.2},{"c":"F","k":"f","w":115,"v":1.0},{"c":"F","k":"f","w":120,"v":0.45},{"c":"F","k":"f","w":125,"v":0.8},{"c":"F","k":"f","w":130,"v":2.0},{"c":"F","k":"f","w":134,"v":2.8},{"c":"F","k":"f","w":138,"v":2.4},{"c":"F","k":"f","w":142,"v":1.4},{"c":"F","k":"f","w":146,"v":0.9},{"c":"F","k":"f","w":150,"v":1.6},{"c":"F","k":"f","w":154,"v":3.5},{"c":"F","k":"f","w":158,"v":3.7},{"c":"F","k":"f","w":162,"v":2.4},{"c":"F","k":"f","w":166,"v":1.0},{"c":"F","k":"f","w":170,"v":0.45},{"c":"F","k":"f","w":174,"v":0.6},{"c":"F","k":"f","w":179,"v":1.6},{"c":"F","k":"f","w":183,"v":3.0},{"c":"F","k":"f","w":187,"v":3.5},{"c":"F","k":"f","w":191,"v":2.8},{"c":"F","k":"f","w":195,"v":1.5},{"c":"F","k":"f","w":199,"v":1.1},{"c":"F","k":"f","w":203,"v":2.5},{"c":"F","k":"f","w":207,"v":4.4},{"c":"F","k":"f","w":210,"v":4.8},{"c":"F","k":"f","w":213,"v":4.0},{"c":"F","k":"f","w":217,"v":2.3},{"c":"F","k":"f","w":220,"v":1.0},{"c":"F","k":"f","w":223,"v":0.35},
{"c":"F","k":"u","w":12,"v":0.4},{"c":"F","k":"u","w":18,"v":0.5},{"c":"F","k":"u","w":22,"v":0.8},{"c":"F","k":"u","w":26,"v":1.8},{"c":"F","k":"u","w":29,"v":2.5},{"c":"F","k":"u","w":31,"v":2.8},{"c":"F","k":"u","w":34,"v":2.5},{"c":"F","k":"u","w":38,"v":1.6},{"c":"F","k":"u","w":44,"v":1.1},{"c":"F","k":"u","w":48,"v":1.5},{"c":"F","k":"u","w":52,"v":2.2},{"c":"F","k":"u","w":56,"v":2.5},{"c":"F","k":"u","w":60,"v":1.6},{"c":"F","k":"u","w":66,"v":0.6},{"c":"F","k":"u","w":72,"v":0.6},{"c":"F","k":"u","w":78,"v":1.8},{"c":"F","k":"u","w":82,"v":2.8},{"c":"F","k":"u","w":86,"v":2.5},{"c":"F","k":"u","w":90,"v":1.5},{"c":"F","k":"u","w":96,"v":1.2},{"c":"F","k":"u","w":100,"v":2.6},{"c":"F","k":"u","w":104,"v":3.5},{"c":"F","k":"u","w":108,"v":3.4},{"c":"F","k":"u","w":112,"v":2.4},{"c":"F","k":"u","w":116,"v":1.2},{"c":"F","k":"u","w":122,"v":0.6},{"c":"F","k":"u","w":128,"v":1.7},{"c":"F","k":"u","w":133,"v":2.9},{"c":"F","k":"u","w":137,"v":2.8},{"c":"F","k":"u","w":141,"v":1.8},{"c":"F","k":"u","w":146,"v":1.2},{"c":"F","k":"u","w":150,"v":2.2},{"c":"F","k":"u","w":154,"v":3.8},{"c":"F","k":"u","w":158,"v":4.0},{"c":"F","k":"u","w":162,"v":2.8},{"c":"F","k":"u","w":166,"v":1.3},{"c":"F","k":"u","w":170,"v":0.7},{"c":"F","k":"u","w":176,"v":1.2},{"c":"F","k":"u","w":181,"v":2.8},{"c":"F","k":"u","w":186,"v":3.8},{"c":"F","k":"u","w":190,"v":3.5},{"c":"F","k":"u","w":194,"v":2.2},{"c":"F","k":"u","w":199,"v":1.3},{"c":"F","k":"u","w":203,"v":3.0},{"c":"F","k":"u","w":207,"v":4.6},{"c":"F","k":"u","w":210,"v":5.0},{"c":"F","k":"u","w":213,"v":4.5},{"c":"F","k":"u","w":217,"v":2.8},{"c":"F","k":"u","w":221,"v":0.6},

{"c":"G","k":"b","w":28,"v":2.5},{"c":"G","k":"b","w":29,"v":2.4},{"c":"G","k":"b","w":32,"v":2.2},{"c":"G","k":"b","w":34,"v":2.05},{"c":"G","k":"b","w":35,"v":2.05},{"c":"G","k":"b","w":40,"v":1.7},{"c":"G","k":"b","w":46,"v":1.6},{"c":"G","k":"b","w":54,"v":1.35},{"c":"G","k":"b","w":59,"v":1.25},{"c":"G","k":"b","w":64,"v":1.0},{"c":"G","k":"b","w":65,"v":1.0},{"c":"G","k":"b","w":77,"v":1.8},{"c":"G","k":"b","w":79,"v":0.55},{"c":"G","k":"b","w":84,"v":0.8},{"c":"G","k":"b","w":89,"v":1.6},{"c":"G","k":"b","w":103,"v":1.25},{"c":"G","k":"b","w":107,"v":1.2},{"c":"G","k":"b","w":111,"v":1.7},{"c":"G","k":"b","w":117,"v":1.1},{"c":"G","k":"b","w":124,"v":1.5},{"c":"G","k":"b","w":134,"v":2.1},{"c":"G","k":"b","w":136,"v":1.05},{"c":"G","k":"b","w":139,"v":1.1},{"c":"G","k":"b","w":144,"v":1.15},{"c":"G","k":"b","w":147,"v":1.15},{"c":"G","k":"b","w":151,"v":1.75},{"c":"G","k":"b","w":152,"v":1.2},{"c":"G","k":"b","w":153,"v":1.2},{"c":"G","k":"b","w":157,"v":1.85},{"c":"G","k":"b","w":161,"v":1.25},{"c":"G","k":"b","w":164,"v":1.95},{"c":"G","k":"b","w":169,"v":2.0},{"c":"G","k":"b","w":176,"v":1.5},{"c":"G","k":"b","w":185,"v":0.55},{"c":"G","k":"b","w":198,"v":2.15},{"c":"G","k":"b","w":200,"v":2.2},{"c":"G","k":"b","w":206,"v":2.65},{"c":"G","k":"b","w":207,"v":1.3},{"c":"G","k":"b","w":212,"v":1.8},{"c":"G","k":"b","w":215,"v":2.2},{"c":"G","k":"b","w":224,"v":7.9},
{"c":"G","k":"b","w":3,"v":0.3},{"c":"G","k":"b","w":8,"v":0.2},{"c":"G","k":"b","w":12,"v":0.3},{"c":"G","k":"b","w":20,"v":0.2},{"c":"G","k":"b","w":24,"v":0.3},{"c":"G","k":"b","w":38,"v":0.4},{"c":"G","k":"b","w":43,"v":0.3},{"c":"G","k":"b","w":50,"v":0.4},{"c":"G","k":"b","w":57,"v":0.5},{"c":"G","k":"b","w":62,"v":0.4},{"c":"G","k":"b","w":70,"v":0.3},{"c":"G","k":"b","w":74,"v":0.5},{"c":"G","k":"b","w":82,"v":0.4},{"c":"G","k":"b","w":93,"v":0.3},{"c":"G","k":"b","w":98,"v":0.4},{"c":"G","k":"b","w":114,"v":0.3},{"c":"G","k":"b","w":121,"v":0.4},{"c":"G","k":"b","w":128,"v":0.3},{"c":"G","k":"b","w":142,"v":0.5},{"c":"G","k":"b","w":149,"v":0.6},{"c":"G","k":"b","w":159,"v":0.7},{"c":"G","k":"b","w":166,"v":0.8},{"c":"G","k":"b","w":171,"v":0.7},{"c":"G","k":"b","w":180,"v":0.6},{"c":"G","k":"b","w":188,"v":0.8},{"c":"G","k":"b","w":192,"v":0.7},{"c":"G","k":"b","w":196,"v":0.6},{"c":"G","k":"b","w":203,"v":0.8},{"c":"G","k":"b","w":210,"v":0.9},{"c":"G","k":"b","w":218,"v":0.6},{"c":"G","k":"b","w":221,"v":0.5},
{"c":"G","k":"f","w":0,"v":0.3},{"c":"G","k":"f","w":5,"v":0.35},{"c":"G","k":"f","w":10,"v":0.3},{"c":"G","k":"f","w":15,"v":0.25},{"c":"G","k":"f","w":20,"v":0.2},{"c":"G","k":"f","w":28,"v":0.3},{"c":"G","k":"f","w":35,"v":0.35},{"c":"G","k":"f","w":45,"v":0.4},{"c":"G","k":"f","w":55,"v":0.45},{"c":"G","k":"f","w":60,"v":0.5},{"c":"G","k":"f","w":70,"v":0.45},{"c":"G","k":"f","w":80,"v":0.4},{"c":"G","k":"f","w":90,"v":0.4},{"c":"G","k":"f","w":100,"v":0.45},{"c":"G","k":"f","w":110,"v":0.45},{"c":"G","k":"f","w":118,"v":0.35},{"c":"G","k":"f","w":125,"v":0.4},{"c":"G","k":"f","w":135,"v":0.45},{"c":"G","k":"f","w":145,"v":0.45},{"c":"G","k":"f","w":155,"v":0.5},{"c":"G","k":"f","w":160,"v":0.55},{"c":"G","k":"f","w":165,"v":0.6},{"c":"G","k":"f","w":175,"v":0.5},{"c":"G","k":"f","w":185,"v":0.45},{"c":"G","k":"f","w":195,"v":0.5},{"c":"G","k":"f","w":205,"v":0.55},{"c":"G","k":"f","w":212,"v":0.65},{"c":"G","k":"f","w":218,"v":0.65},{"c":"G","k":"f","w":224,"v":0.55},{"c":"G","k":"f","w":228,"v":0.5},
{"c":"G","k":"u","w":0,"v":0.65},{"c":"G","k":"u","w":15,"v":0.55},{"c":"G","k":"u","w":30,"v":0.55},{"c":"G","k":"u","w":60,"v":0.6},{"c":"G","k":"u","w":100,"v":0.6},{"c":"G","k":"u","w":150,"v":0.7},{"c":"G","k":"u","w":165,"v":0.8},{"c":"G","k":"u","w":200,"v":0.7},{"c":"G","k":"u","w":215,"v":0.9},{"c":"G","k":"u","w":228,"v":0.7},

{"c":"H","k":"b","w":18,"v":3.2},{"c":"H","k":"b","w":24,"v":4.9},{"c":"H","k":"b","w":25,"v":2.5},{"c":"H","k":"b","w":26,"v":4.6},{"c":"H","k":"b","w":28,"v":4.45},{"c":"H","k":"b","w":29,"v":4.35},{"c":"H","k":"b","w":30,"v":4.2},{"c":"H","k":"b","w":31,"v":2.85},{"c":"H","k":"b","w":34,"v":3.85},{"c":"H","k":"b","w":36,"v":3.4},{"c":"H","k":"b","w":37,"v":3.3},{"c":"H","k":"b","w":39,"v":1.55},{"c":"H","k":"b","w":41,"v":1.55},{"c":"H","k":"b","w":44,"v":1.4},{"c":"H","k":"b","w":45,"v":1.35},{"c":"H","k":"b","w":48,"v":1.1},{"c":"H","k":"b","w":49,"v":1.1},{"c":"H","k":"b","w":52,"v":2.25},{"c":"H","k":"b","w":55,"v":1.0},{"c":"H","k":"b","w":56,"v":0.9},{"c":"H","k":"b","w":63,"v":0.8},{"c":"H","k":"b","w":71,"v":1.9},{"c":"H","k":"b","w":72,"v":3.2},{"c":"H","k":"b","w":73,"v":3.25},{"c":"H","k":"b","w":75,"v":2.95},{"c":"H","k":"b","w":78,"v":3.2},{"c":"H","k":"b","w":79,"v":3.65},{"c":"H","k":"b","w":81,"v":2.85},{"c":"H","k":"b","w":85,"v":1.9},{"c":"H","k":"b","w":88,"v":2.85},{"c":"H","k":"b","w":90,"v":3.8},{"c":"H","k":"b","w":109,"v":1.0},{"c":"H","k":"b","w":115,"v":1.65},{"c":"H","k":"b","w":117,"v":1.65},{"c":"H","k":"b","w":120,"v":1.1},{"c":"H","k":"b","w":123,"v":2.3},{"c":"H","k":"b","w":128,"v":4.8},{"c":"H","k":"b","w":129,"v":3.65},{"c":"H","k":"b","w":130,"v":3.2},{"c":"H","k":"b","w":132,"v":6.75},{"c":"H","k":"b","w":133,"v":1.0},{"c":"H","k":"b","w":150,"v":0.55},{"c":"H","k":"b","w":163,"v":1.05},{"c":"H","k":"b","w":170,"v":1.25},{"c":"H","k":"b","w":179,"v":1.25},{"c":"H","k":"b","w":186,"v":6.5},{"c":"H","k":"b","w":187,"v":4.95},{"c":"H","k":"b","w":189,"v":5.55},{"c":"H","k":"b","w":190,"v":5.7},{"c":"H","k":"b","w":191,"v":2.95},{"c":"H","k":"b","w":193,"v":3.55},{"c":"H","k":"b","w":198,"v":5.15},
{"c":"H","k":"b","w":22,"v":1.5},{"c":"H","k":"b","w":27,"v":2.3},{"c":"H","k":"b","w":32,"v":2.0},{"c":"H","k":"b","w":33,"v":1.8},{"c":"H","k":"b","w":35,"v":1.5},{"c":"H","k":"b","w":60,"v":0.5},{"c":"H","k":"b","w":67,"v":0.6},{"c":"H","k":"b","w":69,"v":1.0},{"c":"H","k":"b","w":74,"v":2.0},{"c":"H","k":"b","w":76,"v":2.5},{"c":"H","k":"b","w":77,"v":2.2},{"c":"H","k":"b","w":80,"v":2.6},{"c":"H","k":"b","w":82,"v":2.2},{"c":"H","k":"b","w":83,"v":2.0},{"c":"H","k":"b","w":84,"v":1.8},{"c":"H","k":"b","w":86,"v":1.2},{"c":"H","k":"b","w":87,"v":1.0},{"c":"H","k":"b","w":125,"v":1.2},{"c":"H","k":"b","w":126,"v":1.5},{"c":"H","k":"b","w":127,"v":1.8},{"c":"H","k":"b","w":131,"v":2.0},{"c":"H","k":"b","w":134,"v":1.6},{"c":"H","k":"b","w":136,"v":0.6},{"c":"H","k":"b","w":137,"v":0.6},{"c":"H","k":"b","w":138,"v":0.6},{"c":"H","k":"b","w":182,"v":1.2},{"c":"H","k":"b","w":184,"v":1.8},{"c":"H","k":"b","w":185,"v":2.0},{"c":"H","k":"b","w":188,"v":2.2},{"c":"H","k":"b","w":192,"v":1.5},{"c":"H","k":"b","w":194,"v":1.0},
{"c":"H","k":"f","w":5,"v":0.3},{"c":"H","k":"f","w":10,"v":0.4},{"c":"H","k":"f","w":15,"v":0.7},{"c":"H","k":"f","w":20,"v":1.3},{"c":"H","k":"f","w":25,"v":2.1},{"c":"H","k":"f","w":29,"v":2.4},{"c":"H","k":"f","w":33,"v":2.0},{"c":"H","k":"f","w":38,"v":1.2},{"c":"H","k":"f","w":42,"v":0.7},{"c":"H","k":"f","w":48,"v":0.45},{"c":"H","k":"f","w":55,"v":0.4},{"c":"H","k":"f","w":62,"v":0.45},{"c":"H","k":"f","w":68,"v":0.8},{"c":"H","k":"f","w":73,"v":1.6},{"c":"H","k":"f","w":77,"v":2.6},{"c":"H","k":"f","w":80,"v":3.0},{"c":"H","k":"f","w":83,"v":2.8},{"c":"H","k":"f","w":87,"v":1.8},{"c":"H","k":"f","w":91,"v":0.9},{"c":"H","k":"f","w":96,"v":0.5},{"c":"H","k":"f","w":102,"v":0.35},{"c":"H","k":"f","w":110,"v":0.3},{"c":"H","k":"f","w":118,"v":0.4},{"c":"H","k":"f","w":124,"v":0.9},{"c":"H","k":"f","w":128,"v":1.6},{"c":"H","k":"f","w":132,"v":2.1},{"c":"H","k":"f","w":135,"v":2.0},{"c":"H","k":"f","w":140,"v":1.1},{"c":"H","k":"f","w":146,"v":0.45},{"c":"H","k":"f","w":152,"v":0.25},{"c":"H","k":"f","w":160,"v":0.25},{"c":"H","k":"f","w":170,"v":0.35},{"c":"H","k":"f","w":176,"v":0.6},{"c":"H","k":"f","w":181,"v":1.2},{"c":"H","k":"f","w":185,"v":1.9},{"c":"H","k":"f","w":188,"v":2.3},{"c":"H","k":"f","w":191,"v":2.0},{"c":"H","k":"f","w":195,"v":1.2},{"c":"H","k":"f","w":200,"v":0.6},{"c":"H","k":"f","w":205,"v":0.35},{"c":"H","k":"f","w":213,"v":0.3},
{"c":"H","k":"u","w":130,"v":2.2},{"c":"H","k":"u","w":132,"v":2.5},{"c":"H","k":"u","w":134,"v":2.6},{"c":"H","k":"u","w":136,"v":2.4},{"c":"H","k":"u","w":138,"v":1.9}
]},
"title": {"text": "Study week", "orient": "bottom", "anchor": "middle", "font": "Liberation Serif", "fontSize": 14.5, "fontWeight": "normal", "color": "black", "offset": 2},
"vconcat": [{
  "data": {"name": "main"},
  "transform": [{"lookup": "c", "from": {"data": {"name": "sites"}, "key": "c", "fields": ["s"]}}],
  "title": {"text": "Incidence (infections per 100 child-weeks)", "orient": "left", "anchor": "middle", "font": "Liberation Serif", "fontSize": 14.5, "fontWeight": "normal", "color": "black", "offset": 4},
  "facet": {"field": "s", "type": "nominal",
    "sort": ["Dhaka, Bangladesh","Vellore, India","Bhaktapur, Nepal","Naushero−Feroze, Pakistan","Fortaleza, Brazil","Loreto, Peru","Limpopo, South Africa","Haydom, Tanzania"],
    "header": {"title": null, "labelFont": "Liberation Serif", "labelFontSize": 14.5, "labelColor": "black", "labelPadding": 6}},
  "columns": 2,
  "spacing": {"row": 13, "column": 14},
  "resolve": {"axis": {"x": "independent", "y": "independent"}},
  "spec": {
    "width": 326, "height": 130,
    "layer": [
      {"transform": [{"filter": "datum.k == 'b'"}],
       "mark": {"type": "rule", "color": "black", "strokeWidth": 1.6},
       "encoding": {
         "x": {"field": "w", "type": "quantitative", "scale": {"domain": [0, 228.5], "nice": false, "zero": false}, "axis": {"title": null, "values": [0, 50, 100, 150, 200], "labelFont": "Liberation Serif", "labelFontSize": 11.5, "labelColor": "#4d4d4d"}},
         "y": {"field": "v", "type": "quantitative", "scale": {"domain": [0, 8.86], "nice": false}, "axis": {"title": null, "values": [0, 2.5, 5, 7.5], "format": ".1f", "labelFont": "Liberation Serif", "labelFontSize": 11.5, "labelColor": "#4d4d4d"}},
         "y2": {"datum": 0}}},
      {"transform": [{"filter": "datum.k == 'u'"}],
       "mark": {"type": "line", "color": "black", "strokeWidth": 6, "strokeDash": [14, 12], "interpolate": "monotone"},
       "encoding": {
         "x": {"field": "w", "type": "quantitative"},
         "y": {"field": "v", "type": "quantitative"}}},
      {"transform": [{"filter": "datum.k == 'f'"}],
       "mark": {"type": "line", "color": "black", "strokeWidth": 6.5, "interpolate": "monotone", "strokeCap": "round"},
       "encoding": {
         "x": {"field": "w", "type": "quantitative"},
         "y": {"field": "v", "type": "quantitative"}}}
    ]
  }
}],
"config": {
  "view": {"stroke": null},
  "font": "Liberation Serif",
  "axis": {"domainColor": "black", "domainWidth": 2, "ticks": false, "grid": false, "labelFont": "Liberation Serif", "labelFontSize": 11.5, "labelColor": "#4d4d4d", "labelPadding": 5},
  "axisY": {"labelPadding": 6}
}
}
